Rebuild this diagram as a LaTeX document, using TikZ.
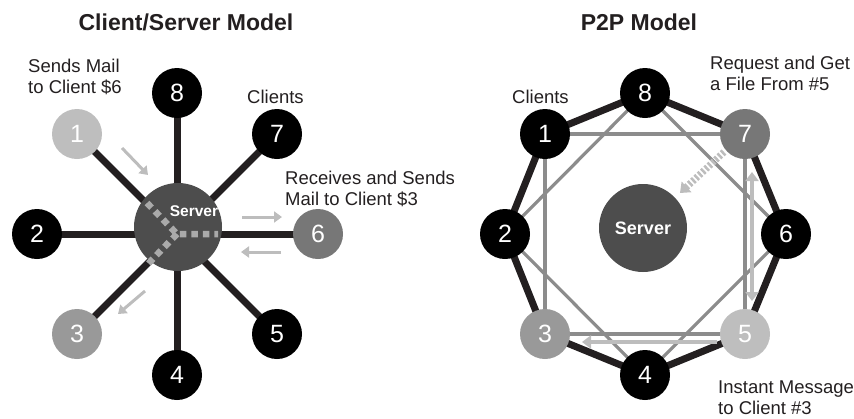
\documentclass[tikz,border=0pt]{standalone}
\usepackage{fontspec}
\setmainfont{Liberation Sans}
\usetikzlibrary{arrows.meta}
\definecolor{edgec}{HTML}{231F20}
\definecolor{srvc}{HTML}{4D4D4D}
\definecolor{lgray}{HTML}{BEBEBE}
\definecolor{mgray}{HTML}{777777}
\definecolor{ggray}{HTML}{999999}
\definecolor{linegray}{HTML}{8C8C8C}
\definecolor{arrowgray}{HTML}{BDBDBD}
\definecolor{dotgray}{HTML}{AAAAAA}
\definecolor{txtc}{HTML}{231F20}
\begin{document}
\begin{tikzpicture}[x=1pt,y=-1pt,
  client/.style={circle,minimum size=50pt,inner sep=0pt,fill=black,text=white,font=\fontsize{25}{25}\selectfont},
  server/.style={circle,minimum size=88pt,inner sep=0pt,fill=srvc},
  srvtext/.style={text=white,font=\fontsize{15.5}{15.5}\selectfont\bfseries,inner sep=0pt},
  edge/.style={draw=edgec,line width=7pt},
  peer/.style={draw=linegray,line width=3.2pt},
  label/.style={anchor=north west,inner sep=0pt,align=left,text=txtc,font=\fontsize{18.5}{21}\selectfont},
  ttl/.style={anchor=base,inner sep=0pt,text=txtc,font=\fontsize{23}{23}\selectfont\bfseries},
  garrow/.style={draw=arrowgray,line width=3pt,-{Triangle[length=8pt,width=11pt]}},
  barrow/.style={draw=arrowgray,line width=4pt},
  dots/.style={draw=dotgray,line width=6.5pt,dash pattern=on 6.5pt off 5pt},
]
\useasboundingbox (0,0) rectangle (854,418);

% ---------------- titles
\node[ttl] (t1) at (186,30) {Client/Server Model};
\node[ttl] (t2) at (639,30) {P2P Model};

% ---------------- left: client/server
\coordinate (hub) at (177,234);
\coordinate (P1) at (77,134);
\coordinate (P2) at (37,234);
\coordinate (P3) at (77,334);
\coordinate (P4) at (177,375);
\coordinate (P5) at (277,334);
\coordinate (P6) at (318,234);
\coordinate (P7) at (277,134);
\coordinate (P8) at (177,93);
\foreach \n in {P1,P2,P3,P4,P5,P6,P7,P8} \draw[edge] (hub) -- (\n);
\node[client,fill=lgray] (L1) at (P1) {1};
\node[client] (L2) at (P2) {2};
\node[client,fill=ggray] (L3) at (P3) {3};
\node[client] (L4) at (P4) {4};
\node[client] (L5) at (P5) {5};
\node[client,fill=mgray] (L6) at (P6) {6};
\node[client] (L7) at (P7) {7};
\node[client] (L8) at (P8) {8};
\node[server] (LS) at (178,227) {};
\node[srvtext] (LST) at (194,211) {Server};
\coordinate (dA) at (147,203);
\coordinate (dB) at (218,234);
\coordinate (dC) at (145,267);
\draw[dots] (dA) -- (hub) -- (dB);
\draw[dots] (hub) -- (dC);

\coordinate (a1s) at (122,148); \coordinate (a1e) at (148,175);
\coordinate (a2s) at (242,217); \coordinate (a2e) at (282,217);
\coordinate (a3s) at (281,252); \coordinate (a3e) at (241,252);
\coordinate (a4s) at (145,291); \coordinate (a4e) at (118,314);
\draw[garrow] (a1s) -- (a1e);
\draw[garrow] (a2s) -- (a2e);
\draw[garrow] (a3s) -- (a3e);
\draw[garrow] (a4s) -- (a4e);

\node[label] (lb1) at (28,58.5) {Sends Mail\\to Client \$6};
\node[label] (lb2) at (247,89.5) {Clients};
\node[label] (lb3) at (285,170.5) {Receives and Sends\\Mail to Client \$3};

% ---------------- right: P2P
\coordinate (R1) at (545,134);
\coordinate (R2) at (505,234);
\coordinate (R3) at (545,334);
\coordinate (R4) at (645,375);
\coordinate (R5) at (745,334);
\coordinate (R6) at (786,234);
\coordinate (R7) at (745,134);
\coordinate (R8) at (645,93);
\draw[edge,line join=round] (R1) -- (R8) -- (R7) -- (R6) -- (R5) -- (R4) -- (R3) -- (R2) -- cycle;
\draw[peer] (R1) -- (R7) -- (R5) -- (R3) -- cycle;
\draw[peer] (R8) -- (R6) -- (R4) -- (R2) -- cycle;
\node[server] (RS) at (643,228) {};
\node[srvtext,font=\fontsize{18}{18}\selectfont\bfseries] (RST) at (RS) {Server};
\node[client] (N1) at (R1) {1};
\node[client] (N2) at (R2) {2};
\node[client,fill=ggray] (N3) at (R3) {3};
\node[client] (N4) at (R4) {4};
\node[client,fill=lgray] (N5) at (R5) {5};
\node[client] (N6) at (R6) {6};
\node[client,fill=mgray] (N7) at (R7) {7};
\node[client] (N8) at (R8) {8};

\coordinate (b1s) at (752,172); \coordinate (b1e) at (752,301);
\draw[barrow,{Triangle[length=9pt,width=13pt]}-{Triangle[length=9pt,width=13pt]}] (b1s) -- (b1e);
\coordinate (b2s) at (717,342); \coordinate (b2e) at (582,342);
\draw[barrow,-{Triangle[length=9pt,width=13pt]}] (b2s) -- (b2e);
\coordinate (b3s) at (724,152); \coordinate (b3e) at (680,193);
\draw[draw=arrowgray,line width=7pt,dash pattern=on 2.5pt off 2pt,-{Triangle[length=9pt,width=14pt]}] (b3s) -- (b3e);

\node[label] (rb1) at (512,89.5) {Clients};
\node[label] (rb2) at (710,55.5) {Request and Get\\a File From \#5};
\node[label] (rb3) at (718,380.5) {Instant Message\\to Client \#3};
\end{tikzpicture}
\end{document}
